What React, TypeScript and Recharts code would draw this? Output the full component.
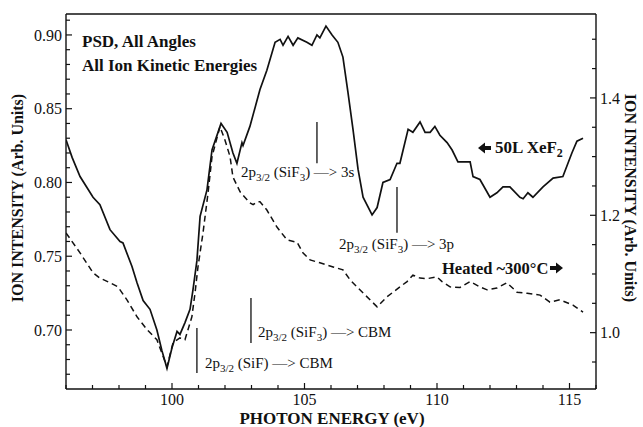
import { LineChart, Line, XAxis, YAxis, ReferenceLine } from "recharts";

// 50L XeF2 exposure (solid, left axis)
const xef2Energy = [
  96.0, 96.23, 96.53, 97.02, 97.28, 97.66, 98.04, 98.15, 98.49, 98.68, 98.91,
  99.17, 99.43, 99.62, 99.81, 100.0, 100.19, 100.3, 100.49, 100.68, 100.79,
  100.94, 101.06, 101.32, 101.51, 101.85, 102.08, 102.3, 102.45, 102.64,
  102.68, 102.94, 103.32, 103.58, 103.89, 104.08, 104.19, 104.38, 104.57,
  104.75, 105.09, 105.28, 105.47, 105.58, 105.81, 106.04, 106.26, 106.45,
  106.64, 106.83, 107.02, 107.21, 107.55, 107.74, 107.96, 108.23, 108.49,
  108.6, 108.91, 109.09, 109.36, 109.55, 109.74, 109.92, 110.11, 110.38,
  110.57, 110.79, 111.25, 111.36, 111.62, 112.0, 112.26, 112.49, 112.75,
  113.13, 113.25, 113.43, 113.62, 114.0, 114.38, 114.75, 115.09, 115.28, 115.51,
];
const xef2Intensity = [
  0.829, 0.817, 0.804, 0.79, 0.785, 0.768, 0.76, 0.759, 0.743, 0.732, 0.72,
  0.714, 0.7, 0.686, 0.674, 0.688, 0.699, 0.697, 0.705, 0.714, 0.727,
  0.747, 0.777, 0.795, 0.822, 0.84, 0.834, 0.82, 0.813, 0.827,
  0.825, 0.838, 0.863, 0.876, 0.895, 0.897, 0.893, 0.899, 0.893,
  0.898, 0.895, 0.893, 0.9, 0.898, 0.906, 0.9, 0.895, 0.885,
  0.861, 0.836, 0.809, 0.79, 0.778, 0.783, 0.8, 0.802, 0.813,
  0.813, 0.836, 0.834, 0.841, 0.834, 0.834, 0.838, 0.832, 0.827,
  0.822, 0.814, 0.814, 0.804, 0.802, 0.79, 0.793, 0.797, 0.797,
  0.79, 0.789, 0.793, 0.79, 0.797, 0.803, 0.804, 0.82, 0.828, 0.83,
];

// Heated ~300°C (dashed, right axis)
const heatedEnergy = [
  96.0, 96.53, 97.02, 97.28, 97.66, 97.96, 98.3, 98.68, 99.06, 99.43, 99.81,
  100.04, 100.3, 100.49, 100.75, 100.87, 100.98, 101.17, 101.36, 101.51,
  101.81, 102.0, 102.19, 102.3, 102.57, 102.94, 103.06, 103.21, 103.32,
  103.58, 103.96, 104.34, 104.72, 104.94, 105.21, 105.58, 106.08, 106.45,
  106.72, 106.98, 107.36, 107.74, 108.11, 108.6, 108.87, 109.09, 109.36,
  109.62, 110.0, 110.19, 110.49, 110.87, 111.25, 111.62, 111.89, 112.26,
  112.64, 113.02, 113.4, 113.89, 114.26, 114.64, 115.13, 115.51,
];
const heatedIntensity = [
  1.17, 1.136, 1.102, 1.093, 1.085, 1.078, 1.056, 1.027, 1.005, 0.988, 0.942,
  0.983, 0.991, 0.988, 1.027, 1.068, 1.112, 1.17, 1.238, 1.3,
  1.351, 1.328, 1.3, 1.265, 1.24, 1.221, 1.218, 1.223, 1.223,
  1.209, 1.18, 1.158, 1.154, 1.136, 1.124, 1.119, 1.112, 1.107,
  1.09, 1.078, 1.061, 1.044, 1.061, 1.078, 1.087, 1.098, 1.093,
  1.092, 1.095, 1.087, 1.078, 1.077, 1.087, 1.078, 1.073, 1.076,
  1.085, 1.069, 1.067, 1.064, 1.052, 1.056, 1.047, 1.035,
];

const energyTicks = [
  96, 97, 98, 99, 100, 101, 102, 103, 104, 105, 106, 107, 108, 109, 110, 111,
  112, 113, 114, 115, 116,
];
const energyLabels = [100, 105, 110, 115];
const leftTicks = [
  0.67, 0.68, 0.69, 0.7, 0.71, 0.72, 0.73, 0.74, 0.75, 0.76, 0.77, 0.78, 0.79,
  0.8, 0.81, 0.82, 0.83, 0.84, 0.85, 0.86, 0.87, 0.88, 0.89, 0.9, 0.91,
];
const leftLabels = [0.7, 0.75, 0.8, 0.85, 0.9];
const rightTicks = [
  0.95, 1.0, 1.05, 1.1, 1.15, 1.2, 1.25, 1.3, 1.35, 1.4, 1.45, 1.5,
];
const rightLabels = [1.0, 1.2, 1.4];

// transition markers (energy, bar from/to on left axis)
const markerEnergy = [100.94, 102.98, 105.47, 108.49];
const markerLow = [0.6708, 0.6912, 0.813, 0.766];
const markerHigh = [0.7014, 0.7217, 0.841, 0.797];
const markerSpecies = ["SiF", "SiF3", "SiF3", "SiF3"];
const markerTarget = ["CBM", "CBM", "3s", "3p"];
const markerLabelOffset = [
  { dx: 8, dy: -5 },
  { dx: 7, dy: -6 },
  { dx: -76, dy: 14 },
  { dx: -58, dy: 16 },
];

const xef2Data = xef2Energy.map((e, i) => ({ energy: e, value: xef2Intensity[i] }));
const heatedData = heatedEnergy.map((e, i) => ({ energy: e, value: heatedIntensity[i] }));

const INK = "#111";
const SERIF = "'Liberation Serif', 'Times New Roman', serif";

const near = (list: number[], v: number) => list.some((l) => Math.abs(l - v) < 1e-6);

const BottomTick = ({ x, y, payload }: any) => {
  const major = near(energyLabels, payload.value);
  return (
    <g>
      <line x1={x} x2={x} y1={y} y2={y - (major ? 6 : 4)} stroke={INK} strokeWidth={1.2} />
      {major && (
        <text x={x} y={y + 16} textAnchor="middle" fontSize={16} fontFamily={SERIF} fill={INK}>
          {payload.value}
        </text>
      )}
    </g>
  );
};

const TopTick = ({ x, y, payload }: any) => {
  const major = near(energyLabels, payload.value);
  return <line x1={x} x2={x} y1={y} y2={y + (major ? 6 : 4)} stroke={INK} strokeWidth={1.2} />;
};

const LeftTick = ({ x, y, payload }: any) => {
  const major = near(leftLabels, payload.value);
  return (
    <g>
      <line x1={x} x2={x + (major ? 6 : 4)} y1={y} y2={y} stroke={INK} strokeWidth={1.2} />
      {major && (
        <text x={x - 4} y={y} dy="0.35em" textAnchor="end" fontSize={16} fontFamily={SERIF} fill={INK}>
          {payload.value.toFixed(2)}
        </text>
      )}
    </g>
  );
};

const RightTick = ({ x, y, payload }: any) => {
  const major = near(rightLabels, payload.value);
  return (
    <g>
      <line x1={x} x2={x - (major ? 6 : 4)} y1={y} y2={y} stroke={INK} strokeWidth={1.2} />
      {major && (
        <text x={x + 4} y={y} dy="0.35em" textAnchor="start" fontSize={16} fontFamily={SERIF} fill={INK}>
          {payload.value.toFixed(1)}
        </text>
      )}
    </g>
  );
};

const TransitionText = ({ x, y, species, target }: any) => {
  const sub = species === "SiF3";
  return (
    <text x={x} y={y} fontSize={15} fontFamily={SERIF} fill={INK}>
      2p
      <tspan dy={4} fontSize={11}>3/2</tspan>
      <tspan dy={-4}>{" (SiF"}</tspan>
      {sub && <tspan dy={4} fontSize={11}>3</tspan>}
      <tspan dy={sub ? -4 : 0}>{") \u2014> " + target}</tspan>
    </text>
  );
};

const markerLabel = (i: number) => (props: any) => {
  const vb = props.viewBox;
  if (!vb) return null;
  const off = markerLabelOffset[i];
  return (
    <TransitionText
      x={vb.x + off.dx}
      y={vb.y + vb.height + off.dy}
      species={markerSpecies[i]}
      target={markerTarget[i]}
    />
  );
};

export default function App() {
  return (
    <div style={{ position: "absolute", left: 0, top: 0, width: 643, height: 427, background: "#fff" }}>
      <LineChart width={643} height={427} margin={{ top: 0, right: 0, bottom: 0, left: 0 }}>
        <XAxis
          xAxisId="bottom"
          dataKey="energy"
          type="number"
          domain={[96, 116]}
          ticks={energyTicks}
          interval={0}
          allowDataOverflow
          height={38}
          tickSize={0}
          tickMargin={0}
          tickLine={false}
          tick={<BottomTick />}
          axisLine={{ stroke: INK, strokeWidth: 1.4 }}
        />
        <XAxis
          xAxisId="top"
          orientation="top"
          type="number"
          domain={[96, 116]}
          ticks={energyTicks}
          interval={0}
          allowDataOverflow
          height={14}
          tickSize={0}
          tickMargin={0}
          tickLine={false}
          tick={<TopTick />}
          axisLine={{ stroke: INK, strokeWidth: 1.4 }}
        />
        <YAxis
          yAxisId="left"
          type="number"
          domain={[0.66, 0.9142]}
          ticks={leftTicks}
          interval={0}
          allowDataOverflow
          width={66}
          tickSize={0}
          tickMargin={0}
          tickLine={false}
          tick={<LeftTick />}
          axisLine={{ stroke: INK, strokeWidth: 1.4 }}
        />
        <YAxis
          yAxisId="right"
          orientation="right"
          type="number"
          domain={[0.904, 1.543]}
          ticks={rightTicks}
          interval={0}
          allowDataOverflow
          width={47}
          tickSize={0}
          tickMargin={0}
          tickLine={false}
          tick={<RightTick />}
          axisLine={{ stroke: INK, strokeWidth: 1.4 }}
        />
        <Line
          data={heatedData}
          xAxisId="bottom"
          yAxisId="right"
          dataKey="value"
          type="linear"
          stroke={INK}
          strokeWidth={1.5}
          strokeDasharray="6 4"
          dot={false}
          isAnimationActive={false}
        />
        <Line
          data={xef2Data}
          xAxisId="bottom"
          yAxisId="left"
          dataKey="value"
          type="linear"
          stroke={INK}
          strokeWidth={1.7}
          dot={false}
          isAnimationActive={false}
        />
        {markerEnergy.map((e, i) => (
          <ReferenceLine
            key={i}
            xAxisId="bottom"
            yAxisId="left"
            segment={[
              { x: e, y: markerLow[i] },
              { x: e, y: markerHigh[i] },
            ]}
            stroke={INK}
            strokeWidth={1.3}
            ifOverflow="visible"
            label={markerLabel(i)}
          />
        ))}
      </LineChart>
      <svg
        width={643}
        height={427}
        style={{ position: "absolute", left: 0, top: 0, pointerEvents: "none" }}
        fontFamily={SERIF}
        fill={INK}
      >
        <text x={82} y={47} fontSize={17} fontWeight="bold">PSD, All Angles</text>
        <text x={82} y={71} fontSize={17} fontWeight="bold">All Ion Kinetic Energies</text>
        <path d="M478 148 L485 142.5 L485 146 L491 146 L491 150 L485 150 L485 153.5 Z" />
        <text x={495} y={153} fontSize={17} fontWeight="bold">
          50L XeF<tspan dy={4} fontSize={12}>2</tspan>
        </text>
        <text x={442} y={274} fontSize={16.5} fontWeight="bold">Heated ~300°C</text>
        <path d="M563 268 L556 262.5 L556 266 L550 266 L550 270 L556 270 L556 273.5 Z" />
        <text x={332} y={424} fontSize={17} fontWeight="bold" textAnchor="middle">
          PHOTON ENERGY (eV)
        </text>
        <text
          x={23}
          y={198}
          fontSize={16}
          fontWeight="bold"
          textAnchor="middle"
          transform="rotate(-90 23 198)"
        >
          ION INTENSITY (Arb. Units)
        </text>
        <text
          x={625}
          y={198}
          fontSize={16}
          fontWeight="bold"
          textAnchor="middle"
          transform="rotate(90 625 198)"
        >
          ION INTENSITY (Arb. Units)
        </text>
      </svg>
    </div>
  );
}
